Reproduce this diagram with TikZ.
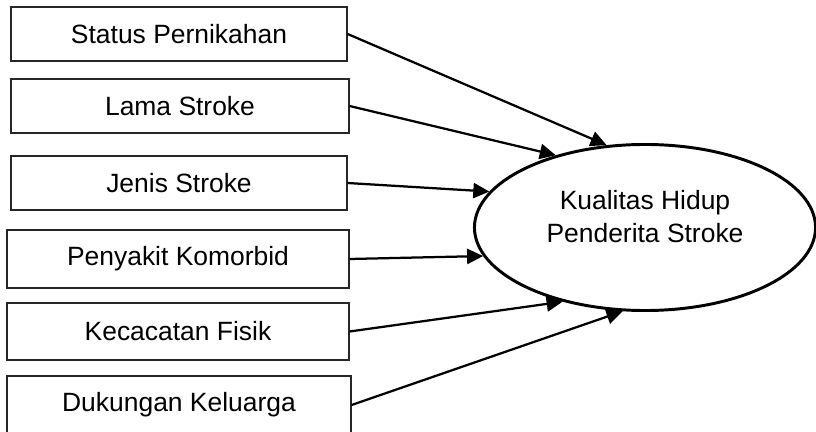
\documentclass[tikz,border=0pt]{standalone}
\usepackage{fontspec}
\setmainfont{Liberation Sans}
\usepackage{tikz}
\usetikzlibrary{positioning,shapes.geometric,arrows.meta}

\begin{document}
\begin{tikzpicture}[x=0.025cm,y=-0.025cm,
    font=\fontsize{18.8pt}{23.5pt}\selectfont,
    >={Triangle[length=0.4cm,width=0.38cm]},
    faktor/.style={draw=black!85,line width=0.8pt,inner sep=0pt},
    panah/.style={->,line width=1.6pt}]
\useasboundingbox (0,0) rectangle (816,432);

% Factor boxes on the left
\foreach \i/\x/\y/\w/\h/\teks in {1/179/34/8.4/1.35/Status Pernikahan,
                                  2/180/106/8.45/1.35/Lama Stroke,
                                  3/179/183/8.4/1.35/Jenis Stroke,
                                  4/178/259/8.55/1.45/Penyakit Komorbid,
                                  5/178/331.5/8.55/1.425/Kecacatan Fisik,
                                  6/179/405/8.6/1.45/Dukungan Keluarga} {
    \node[faktor,minimum width=\w cm,minimum height=\h cm] (f\i) at (\x,\y) {\teks};
}

% Outcome ellipse
\node[draw,ellipse,line width=2.1pt,inner sep=0pt,minimum width=8.525cm,minimum height=4.15cm] (kh) at (645,227.5) {};
\node[align=center] (khteks) at ([yshift=0.27cm]kh.center) {Kualitas Hidup\\Penderita Stroke};

% Arrows into the ellipse
\foreach \i/\a in {1/115,2/141,3/167,4/190,5/222,6/255} {
    \draw[panah] (f\i.east) -- (kh.\a);
}
\end{tikzpicture}
\end{document}
